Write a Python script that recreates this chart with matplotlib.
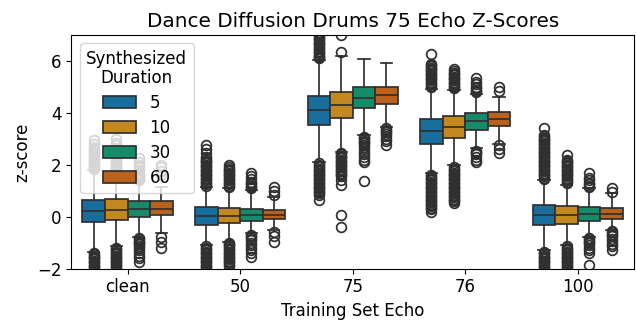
import colorsys
import matplotlib
matplotlib.use("Agg")
import matplotlib.pyplot as plt
import matplotlib.patches as mpatches
from matplotlib.colors import to_rgb

plt.rcParams["font.size"] = 12

# categories / hue levels
echo_sets = ["clean", "50", "75", "76", "100"]
durations = [5, 10, 30, 60]

# box stats, rows = echo set, cols = duration
q1 = [[-0.22, -0.13, 0.00, 0.07],
      [-0.32, -0.26, -0.15, -0.10],
      [3.55, 3.82, 4.19, 4.33],
      [2.82, 3.05, 3.36, 3.49],
      [-0.32, -0.28, -0.17, -0.09]]
med = [[0.22, 0.26, 0.28, 0.30],
       [0.03, 0.03, 0.07, 0.07],
       [4.10, 4.30, 4.59, 4.68],
       [3.31, 3.46, 3.68, 3.76],
       [0.07, 0.07, 0.10, 0.10]]
q3 = [[0.64, 0.68, 0.60, 0.60],
      [0.36, 0.32, 0.30, 0.26],
      [4.64, 4.81, 4.98, 5.00],
      [3.75, 3.87, 4.00, 4.04],
      [0.45, 0.41, 0.38, 0.32]]
whis_hi = [[1.80, 1.80, 1.35, 1.15],
           [1.15, 1.09, 1.03, 0.77],
           [6.03, 6.18, 6.09, 5.94],
           [4.94, 4.87, 4.74, 4.62],
           [1.41, 1.22, 1.09, 0.90]]
whis_lo = [[-1.35, -1.15, -0.77, -0.62],
           [-1.09, -0.96, -0.64, -0.51],
           [2.12, 2.50, 3.14, 3.46],
           [1.67, 1.99, 2.63, 2.82],
           [-1.28, -1.09, -0.77, -0.51]]

# outliers above the upper whisker (dense columns typed close together)
fliers_hi = [
    [[1.85, 1.9, 1.95, 2.0, 2.05, 2.1, 2.15, 2.2, 2.25, 2.3, 2.35, 2.4, 2.45, 2.5,
      2.55, 2.6, 2.7, 2.8, 2.95],
     [1.85, 1.9, 1.95, 2.0, 2.05, 2.1, 2.15, 2.2, 2.25, 2.3, 2.35, 2.4, 2.45, 2.5,
      2.55, 2.6, 2.65, 2.75, 2.85, 3.0],
     [1.4, 1.45, 1.5, 1.55, 1.6, 1.65, 1.7, 1.8, 1.9, 2.0, 2.1, 2.25],
     [1.6, 1.75, 1.9, 2.0]],
    [[1.2, 1.25, 1.3, 1.35, 1.4, 1.45, 1.5, 1.55, 1.6, 1.65, 1.7, 1.75, 1.8, 1.85,
      1.9, 1.95, 2.0, 2.05, 2.1, 2.15, 2.2, 2.25, 2.3, 2.45, 2.6, 2.75],
     [1.15, 1.2, 1.25, 1.3, 1.35, 1.4, 1.45, 1.5, 1.55, 1.6, 1.65, 1.7, 1.75, 1.8,
      1.85, 1.9, 2.0],
     [1.1, 1.15, 1.2, 1.25, 1.3, 1.35, 1.45, 1.55, 1.67],
     [0.85, 1.0, 1.15]],
    [[6.1, 6.15, 6.2, 6.25, 6.3, 6.35, 6.4, 6.45, 6.5, 6.55, 6.6, 6.65, 6.7, 6.75,
      6.8, 6.85, 6.9, 6.95, 7.0, 7.05, 7.1],
     [6.35, 6.99],
     [],
     []],
    [[5.0, 5.05, 5.1, 5.15, 5.2, 5.25, 5.3, 5.35, 5.4, 5.45, 5.5, 5.55, 5.6, 5.65,
      5.7, 5.75, 5.8, 5.85, 5.9, 6.28],
     [4.95, 5.0, 5.05, 5.1, 5.15, 5.2, 5.25, 5.3, 5.35, 5.4, 5.45, 5.5, 5.55, 5.6,
      5.71],
     [4.8, 4.85, 4.9, 4.95, 5.0, 5.1, 5.2, 5.36],
     [4.85, 5.0]],
    [[1.45, 1.5, 1.55, 1.6, 1.65, 1.7, 1.75, 1.8, 1.85, 1.9, 1.95, 2.0, 2.05, 2.1,
      2.15, 2.2, 2.25, 2.3, 2.35, 2.4, 2.45, 2.5, 2.55, 2.6, 2.65, 2.7, 2.75, 2.8,
      2.85, 2.9, 2.95, 3.0, 3.05, 3.1, 3.15, 3.4],
     [1.3, 1.35, 1.4, 1.45, 1.5, 1.55, 1.6, 1.65, 1.7, 1.75, 1.8, 1.85, 1.9, 1.95,
      2.0, 2.05, 2.1, 2.15, 2.2, 2.37],
     [1.15, 1.2, 1.25, 1.3, 1.4, 1.5, 1.67],
     [0.95, 1.09]],
]
# outliers below the lower whisker
fliers_lo = [
    [[-1.4, -1.45, -1.5, -1.55, -1.6, -1.65, -1.7, -1.75, -1.8, -1.85, -1.9, -1.95,
      -2.0, -2.05, -2.1],
     [-1.2, -1.25, -1.3, -1.35, -1.4, -1.45, -1.5, -1.55, -1.6, -1.65, -1.7, -1.75,
      -1.8, -1.85, -1.9, -1.95, -2.0, -2.05, -2.1],
     [-0.82, -0.87, -0.92, -0.97, -1.02, -1.07, -1.12, -1.2, -1.3, -1.4, -1.5, -1.6,
      -1.73],
     [-0.77, -0.96, -1.22]],
    [[-1.15, -1.2, -1.25, -1.3, -1.35, -1.4, -1.45, -1.5, -1.55, -1.6, -1.65, -1.7,
      -1.75, -1.8, -1.85, -1.9, -1.95, -2.0, -2.05, -2.1],
     [-1.0, -1.05, -1.1, -1.15, -1.2, -1.25, -1.3, -1.35, -1.4, -1.45, -1.5, -1.55,
      -1.6, -1.65, -1.7, -1.75, -1.8, -1.85, -1.92],
     [-0.7, -0.75, -0.8, -0.85, -0.9, -1.0, -1.1, -1.2, -1.3, -1.4, -1.54],
     [-0.6, -0.75, -0.96]],
    [[2.05, 2.0, 1.95, 1.9, 1.85, 1.8, 1.75, 1.7, 1.65, 1.6, 1.55, 1.5, 1.45, 1.4,
      1.35, 1.3, 1.25, 1.2, 1.15, 1.1, 1.05, 1.0, 0.95, 0.9, 0.85, 0.64],
     [2.45, 2.4, 2.35, 2.3, 2.25, 2.2, 2.15, 2.1, 2.05, 2.0, 1.95, 1.9, 1.85, 1.8,
      1.75, 1.7, 1.65, 1.6, 1.55, 1.4, 1.22, 0.07, -0.38],
     [3.08, 3.03, 2.98, 2.93, 2.88, 2.83, 2.78, 2.7, 2.6, 2.5, 2.4, 2.3, 2.2, 2.12,
      1.38],
     [3.4, 3.35, 3.3, 3.25, 3.2, 3.1, 3.0, 2.9, 2.76]],
    [[1.6, 1.55, 1.5, 1.45, 1.4, 1.35, 1.3, 1.25, 1.2, 1.15, 1.1, 1.05, 1.0, 0.95,
      0.9, 0.85, 0.8, 0.75, 0.7, 0.65, 0.6, 0.55, 0.5, 0.45, 0.4, 0.35, 0.3, 0.19],
     [1.9, 1.85, 1.8, 1.75, 1.7, 1.65, 1.6, 1.55, 1.5, 1.45, 1.4, 1.35, 1.3, 1.25,
      1.2, 1.15, 1.1, 1.05, 1.0, 0.95, 0.9, 0.85, 0.8, 0.75, 0.7, 0.65, 0.6, 0.51],
     [2.55, 2.5, 2.45, 2.4, 2.3, 2.2, 2.12],
     [2.75, 2.6, 2.44]],
    [[-1.35, -1.4, -1.45, -1.5, -1.55, -1.6, -1.65, -1.7, -1.75, -1.8, -1.85, -1.9,
      -1.95, -2.0, -2.05, -2.1],
     [-1.15, -1.2, -1.25, -1.3, -1.35, -1.4, -1.45, -1.5, -1.55, -1.6, -1.65, -1.7,
      -1.75, -1.8, -1.85, -1.9, -1.95, -2.0, -2.05, -2.1],
     [-0.82, -0.87, -0.92, -0.97, -1.02, -1.1, -1.2, -1.3, -1.41, -1.86],
     [-0.55, -0.6, -0.65, -0.7, -0.75, -0.85, -0.95, -1.05, -1.15, -1.28]],
]

base_colors = ["#0173b2", "#de8f05", "#029e73", "#d55e00"]


def desaturate(c, prop=0.75):
    h, l, s = colorsys.rgb_to_hls(*to_rgb(c))
    return colorsys.hls_to_rgb(h, l, s * prop)


colors = [desaturate(c) for c in base_colors]
gray = (0.19, 0.19, 0.19)
lw = 1.25
box_w = 0.2

fig = plt.figure(figsize=(6.36, 3.22), dpi=100)
ax = fig.add_axes([0.112, 0.166, 0.885, 0.725])

for j, dur in enumerate(durations):
    stats = []
    positions = []
    for i in range(len(echo_sets)):
        stats.append({
            "med": med[i][j], "q1": q1[i][j], "q3": q3[i][j],
            "whislo": whis_lo[i][j], "whishi": whis_hi[i][j],
            "fliers": fliers_hi[i][j] + fliers_lo[i][j],
        })
        positions.append(i + (j - 1.5) * box_w)
    ax.bxp(stats, positions=positions, widths=box_w, capwidths=box_w * 0.5,
           patch_artist=True, manage_ticks=False,
           boxprops=dict(facecolor=colors[j], edgecolor=gray, linewidth=lw),
           medianprops=dict(color=gray, linewidth=lw),
           whiskerprops=dict(color=gray, linewidth=lw),
           capprops=dict(color=gray, linewidth=lw),
           flierprops=dict(marker="o", markersize=7, markerfacecolor="none",
                           markeredgecolor=gray, markeredgewidth=lw))

ax.set_xlim(-0.5, len(echo_sets) - 0.5)
ax.set_ylim(-2, 7)
ax.set_xticks(range(len(echo_sets)))
ax.set_xticklabels(echo_sets)
ax.set_yticks([-2, 0, 2, 4, 6])
ax.set_xlabel("Training Set Echo")
ax.set_ylabel("z-score")
ax.set_title("Dance Diffusion Drums 75 Echo Z-Scores")

handles = [mpatches.Patch(facecolor=colors[j], edgecolor=gray, linewidth=lw,
                          label=str(d)) for j, d in enumerate(durations)]
leg = ax.legend(handles=handles, title="Synthesized\nDuration", loc="upper left",
                alignment="center", title_fontsize=12, labelspacing=0.42)
leg.get_title().set_multialignment("center")
leg.get_title().set_linespacing(1.05)

fig.savefig("out.png", dpi=100)
